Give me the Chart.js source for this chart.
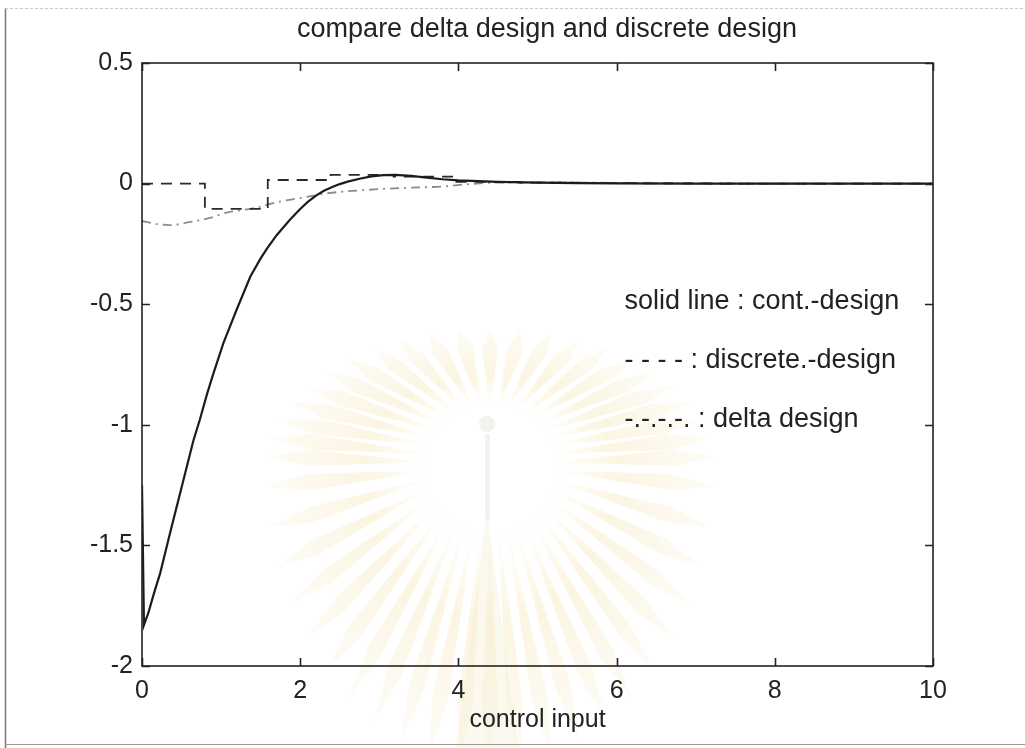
<!DOCTYPE html>
<html>
<head>
<meta charset="utf-8">
<script src="https://cdn.jsdelivr.net/npm/chart.js@4/dist/chart.umd.min.js"></script>
<style>
  html, body { margin: 0; padding: 0; background: #ffffff; }
  #wrap { position: relative; width: 1025px; height: 748px; }
  canvas { display: block; }
</style>
</head>
<body>
<div id="wrap"><canvas id="c" width="1025" height="748"></canvas></div>
<script>
// Control input u(t) for the three controller designs
const contTime  = [0, 0.025, 0.08, 0.15, 0.23, 0.354, 0.5, 0.65, 0.73, 0.82, 0.9, 1.03, 1.2, 1.37, 1.5, 1.58, 1.7, 1.87, 2.0, 2.1, 2.2, 2.3, 2.42, 2.5, 2.6, 2.75, 2.9, 3.05, 3.2, 3.4, 3.6, 3.8, 4.0, 4.5, 5.0, 5.5, 6.0, 7.0, 10.0];
const contValue = [-1.25, -1.83, -1.78, -1.70, -1.615, -1.45, -1.26, -1.065, -0.98, -0.875, -0.79, -0.66, -0.52, -0.385, -0.31, -0.27, -0.215, -0.15, -0.105, -0.075, -0.05, -0.03, -0.012, -0.002, 0.008, 0.02, 0.03, 0.035, 0.036, 0.032, 0.025, 0.018, 0.013, 0.007, 0.004, 0.002, 0.001, 0, 0];

// Zero-order-hold samples of the discrete design
const discTime  = [0, 0.795, 1.59, 2.385, 3.18, 3.975, 4.77, 5.565, 6.36, 7.155, 10.0];
const discValue = [0, -0.105, 0.015, 0.036, 0.029, 0.007, 0.004, 0.002, 0.001, 0, 0];

const deltaTime  = [0, 0.2, 0.35, 0.6, 0.86, 1.07, 1.4, 1.74, 2.0, 2.4, 2.85, 3.3, 3.8, 4.1, 4.5, 5.0, 6.0, 7.0, 8.0, 10.0];
const deltaValue = [-0.155, -0.168, -0.172, -0.16, -0.142, -0.12, -0.103, -0.075, -0.06, -0.038, -0.026, -0.018, -0.012, -0.003, 0.004, 0.005, 0.003, 0.001, 0, 0];

const xTicks = [0, 2, 4, 6, 8, 10];
const yTicks = [0.5, 0, -0.5, -1, -1.5, -2];

const titleText = 'compare delta design and discrete design';
const xLabel = 'control input';
const notes = [
  { x: 6.1, y: -0.49, text: 'solid line : cont.-design' },
  { x: 6.1, y: -0.735, text: '- - - - : discrete.-design' },
  { x: 6.1, y: -0.98, text: '-.-.-.-. : delta design' }
];

const FONT = '"Liberation Sans", Arial, Helvetica, sans-serif';
const INK = '#222222';

const pts = (t, v) => t.map((x, i) => ({ x, y: v[i] }));

// page background, frame and a faint emblem-like sunburst
const backdrop = {
  id: 'backdrop',
  beforeDraw(chart) {
    const ctx = chart.ctx;
    ctx.save();
    ctx.fillStyle = '#ffffff';
    ctx.fillRect(0, 0, chart.width, chart.height);

    const cx = 490, cy = 466;
    const n = 46;
    for (let i = 0; i < n; i++) {
      const a = (i + 0.5) / n * Math.PI * 2;
      const up = Math.sin(a) < 0;
      const rx = 225, ry = up ? 138 : 300;
      const r0 = 58;
      const ox = cx + Math.cos(a) * rx, oy = cy + Math.sin(a) * ry;
      const ix = cx + Math.cos(a) * r0, iy = cy + Math.sin(a) * r0;
      const px = -Math.sin(a), py = Math.cos(a);
      const w = 8;
      const g = ctx.createLinearGradient(ix, iy, ox, oy);
      g.addColorStop(0, 'rgba(250,240,210,0.0)');
      g.addColorStop(0.4, 'rgba(248,236,200,0.55)');
      g.addColorStop(1, 'rgba(248,238,210,0.2)');
      ctx.fillStyle = g;
      ctx.beginPath();
      ctx.moveTo(ix, iy);
      ctx.lineTo(ix + (ox - ix) * 0.75 + px * w, iy + (oy - iy) * 0.75 + py * w);
      ctx.lineTo(ox, oy);
      ctx.lineTo(ix + (ox - ix) * 0.75 - px * w, iy + (oy - iy) * 0.75 - py * w);
      ctx.closePath();
      ctx.fill();
    }
    ctx.fillStyle = 'rgba(232,230,224,0.5)';
    ctx.beginPath();
    ctx.arc(cx - 3, cy - 42, 8, 0, Math.PI * 2);
    ctx.fill();
    ctx.fillRect(cx - 5, cy - 32, 5, 85);
    ctx.beginPath();
    ctx.moveTo(cx - 3, cy + 45);
    ctx.lineTo(cx + 28, cy + 282);
    ctx.lineTo(cx - 34, cy + 282);
    ctx.closePath();
    ctx.fillStyle = 'rgba(244,234,205,0.35)';
    ctx.fill();

    ctx.strokeStyle = '#777';
    ctx.lineWidth = 1.5;
    ctx.beginPath();
    ctx.moveTo(5.5, 8); ctx.lineTo(5.5, 748);
    ctx.stroke();
    ctx.strokeStyle = '#c8c8c8';
    ctx.lineWidth = 1;
    ctx.setLineDash([3, 2]);
    ctx.beginPath();
    ctx.moveTo(5, 8.5); ctx.lineTo(1025, 8.5);
    ctx.stroke();
    ctx.setLineDash([]);
    ctx.strokeStyle = '#9a9a9a';
    ctx.beginPath();
    ctx.moveTo(5, 744.5); ctx.lineTo(1025, 744.5);
    ctx.stroke();
    ctx.restore();
  }
};

// MATLAB-style box with inward ticks, title and line notes
const frame = {
  id: 'frame',
  afterDatasetsDraw(chart) {
    const { ctx, chartArea: a, scales: { x, y } } = chart;
    ctx.save();
    ctx.strokeStyle = INK;
    ctx.lineWidth = 1.6;
    ctx.strokeRect(a.left, a.top, a.right - a.left, a.bottom - a.top);
    const L = 8;
    ctx.beginPath();
    x.ticks.forEach(t => {
      const p = Math.round(x.getPixelForValue(t.value)) + 0.5;
      ctx.moveTo(p, a.bottom); ctx.lineTo(p, a.bottom - L);
      ctx.moveTo(p, a.top); ctx.lineTo(p, a.top + L);
    });
    y.ticks.forEach(t => {
      const p = Math.round(y.getPixelForValue(t.value)) + 0.5;
      ctx.moveTo(a.left, p); ctx.lineTo(a.left + L, p);
      ctx.moveTo(a.right, p); ctx.lineTo(a.right - L, p);
    });
    ctx.stroke();

    ctx.fillStyle = INK;
    ctx.font = '27px ' + FONT;
    ctx.textAlign = 'left';
    ctx.textBaseline = 'middle';
    notes.forEach(n => ctx.fillText(n.text, x.getPixelForValue(n.x), y.getPixelForValue(n.y)));

    ctx.textAlign = 'center';
    ctx.fillText(titleText, 547, 30);
    ctx.restore();
  }
};

new Chart(document.getElementById('c'), {
  type: 'line',
  data: {
    datasets: [
      {
        label: 'cont.-design',
        data: pts(contTime, contValue),
        borderColor: '#1c1c1c',
        borderWidth: 2.2,
        pointRadius: 0,
        tension: 0
      },
      {
        label: 'discrete.-design',
        data: pts(discTime, discValue),
        borderColor: '#2a2a2a',
        borderWidth: 1.8,
        borderDash: [11, 8],
        pointRadius: 0,
        stepped: 'before'
      },
      {
        label: 'delta design',
        data: pts(deltaTime, deltaValue),
        borderColor: '#8c8c8c',
        borderWidth: 1.8,
        borderDash: [9, 5, 2, 5],
        pointRadius: 0,
        cubicInterpolationMode: 'monotone'
      }
    ]
  },
  options: {
    responsive: false,
    animation: false,
    devicePixelRatio: 1,
    layout: { padding: { top: 63, right: 92, left: 0, bottom: 0 } },
    plugins: {
      legend: { display: false },
      title: { display: false },
      tooltip: { enabled: false }
    },
    scales: {
      x: {
        type: 'linear',
        min: 0, max: 10,
        grid: { display: false, drawTicks: false },
        border: { display: false },
        afterBuildTicks: s => { s.ticks = xTicks.map(v => ({ value: v })); },
        afterFit: s => { s.height = 82; },
        ticks: {
          color: INK,
          font: { family: FONT, size: 25 },
          padding: 10,
          maxRotation: 0,
          callback: v => String(v)
        },
        title: {
          display: true,
          text: xLabel,
          color: INK,
          font: { family: FONT, size: 25 },
          padding: { top: 0, bottom: 13 }
        }
      },
      y: {
        type: 'linear',
        min: -2, max: 0.5,
        grid: { display: false, drawTicks: false },
        border: { display: false },
        afterBuildTicks: s => { s.ticks = yTicks.map(v => ({ value: v })); },
        afterFit: s => { s.width = 142; },
        ticks: {
          color: INK,
          font: { family: FONT, size: 25 },
          padding: 9,
          callback: v => String(v)
        }
      }
    }
  },
  plugins: [backdrop, frame]
});
</script>
</body>
</html>
